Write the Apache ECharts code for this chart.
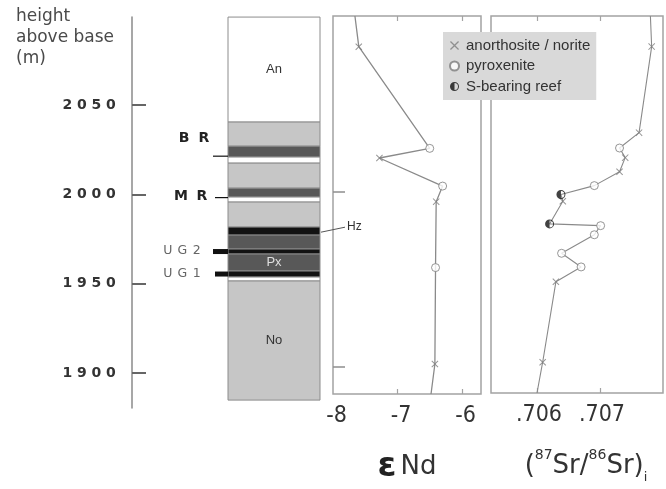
<!DOCTYPE html>
<html>
<head>
<meta charset="utf-8">
<script src="https://cdn.jsdelivr.net/npm/echarts@6/dist/echarts.min.js"></script>
<style>
  html, body { margin: 0; padding: 0; background: #fff; }
  #chart { width: 666px; height: 489px; }
</style>
</head>
<body>
<div id="chart"></div>
<script>
// Height range shared by the column and both isotope panels (m above base)
const heightMin = 1884.4;
const heightMax = 2100;
const heightTicks = [1900, 1950, 2000, 2050];

// Stratigraphic column, top to bottom
const layerBase  = [2040.6, 2027.1, 2021.0, 2017.6, 2003.6, 1998.6, 1995.8, 1981.8, 1977.3, 1969.5, 1966.7, 1957.2, 1953.8, 1951.6, 1884.9];
const layerTop   = [2099.4, 2040.6, 2027.1, 2021.0, 2017.6, 2003.6, 1998.6, 1995.8, 1981.8, 1977.3, 1969.5, 1966.7, 1957.2, 1953.8, 1951.6];
const layerRock  = ['white', 'light', 'dark', 'white', 'light', 'dark', 'white', 'light', 'black', 'dark', 'black', 'dark', 'black', 'white', 'light'];
const layerLabel = ['An', '', '', '', '', '', '', '', '', '', '', 'Px', '', '', 'No'];

// Named reefs and the Hz horizon
const reefName   = ['BR', 'MR', 'UG2', 'UG1'];
const reefHeight = [2021.5, 1998.3, 1968.1, 1955.5];
const hzName = 'Hz';
const hzHeight = 1979.5;

// εNd profile ('' = where the line leaves the frame)
const ndHeight = [2100, 2082.5, 2024.5, 2019, 2003, 1994.1, 1956.5, 1901.5, 1884.4];
const ndValue  = [-7.66, -7.60, -6.50, -7.28, -6.30, -6.40, -6.41, -6.42, -6.48];
const ndRock   = ['', 'A', 'P', 'A', 'P', 'A', 'P', 'A', ''];

// Initial 87Sr/86Sr profile
const srHeight = [2100, 2082.5, 2033.3, 2024.5, 2019, 2010.9, 2003, 1997.9, 1994.1, 1981.1, 1980.1, 1974.9, 1964.3, 1956.5, 1948, 1902, 1884.4];
const srValue  = [0.70780, 0.70782, 0.70762, 0.70731, 0.70740, 0.70731, 0.70691, 0.70638, 0.70641, 0.70620, 0.70701, 0.70691, 0.70639, 0.70670, 0.70630, 0.70609, 0.70600];
const srRock   = ['', 'A', 'A', 'P', 'A', 'A', 'P', 'S', 'A', 'S', 'P', 'P', 'P', 'P', 'A', 'A', ''];

// Axis ticks
const ndTicks = [-8, -7, -6];
const srTicks = [0.706, 0.707];
const rockNames = { A: 'anorthosite / norite', P: 'pyroxenite', S: 'S-bearing reef' };

// ---------------------------------------------------------------------
const GRID_TOP = 16, GRID_H = 385;
const frameColor = '#a3a3a3';
const lineColor = '#8a8a8a';

const shadeColor = { white: '#ffffff', light: '#c6c6c6', dark: '#585858', black: '#121212' };

const crossPath = 'path://M0,1L1,0L5,4L9,0L10,1L6,5L10,9L9,10L5,6L1,10L0,9L4,5Z';
const halfPath = 'path://M10,0A10,10 0 1,1 10,20A10,10 0 1,1 10,0Z' +
                 'M10,2.2A7.8,7.8 0 1,0 10,17.8A7.8,7.8 0 1,0 10,2.2Z' +
                 'M10,2.2A7.8,7.8 0 0,0 10,17.8Z';

const rockSymbol = {
  A: { symbol: crossPath, symbolSize: 7, itemStyle: { color: '#7c7c7c' } },
  P: { symbol: 'circle', symbolSize: 8, itemStyle: { color: '#ffffff', borderColor: '#7c7c7c', borderWidth: 1 } },
  S: { symbol: halfPath, symbolSize: 9, itemStyle: { color: '#111111' } }
};

// Rich text with each character in a fixed-width cell (wide lettering)
function spaced(text) {
  return text.split('').map(c => '{c|' + c + '}').join('');
}

const chart = echarts.init(document.getElementById('chart'), null, { renderer: 'canvas' });

function renderLayer(params, api) {
  const i = params.dataIndex;
  const p1 = api.coord([0, api.value(1)]);
  const p2 = api.coord([1, api.value(0)]);
  const children = [{
    type: 'rect',
    shape: { x: p1[0], y: p1[1], width: p2[0] - p1[0], height: p2[1] - p1[1] },
    style: { fill: shadeColor[layerRock[i]], stroke: '#8c8c8c', lineWidth: 1 }
  }];
  if (layerLabel[i]) {
    children.push({
      type: 'text',
      style: {
        text: layerLabel[i],
        x: (p1[0] + p2[0]) / 2, y: (p1[1] + p2[1]) / 2,
        align: 'center', verticalAlign: 'middle',
        fill: layerRock[i] === 'dark' ? '#dedede' : '#333333',
        font: '13px "Liberation Sans", sans-serif'
      }
    });
  }
  return { type: 'group', children };
}

// per-reef drawing style: tick length/width, label offset, lettering
const reefLook = {
  BR:  { len: 15, w: 1.2, dx: -14,   dy: -18, cell: 20,   bold: true,  size: 14, fill: '#222' },
  MR:  { len: 13, w: 1.2, dx: -15.5, dy: -1,  cell: 21,   bold: true,  size: 14, fill: '#222' },
  UG2: { len: 15, w: 5,   dx: -24,   dy: -1,  cell: 14.5, bold: false, size: 12.5, fill: '#666' },
  UG1: { len: 13, w: 5,   dx: -24,   dy: 0,   cell: 14.5, bold: false, size: 12.5, fill: '#666' }
};

function renderReef(params, api) {
  const name = reefName[params.dataIndex];
  const look = reefLook[name];
  const p = api.coord([0, api.value(1)]);
  return {
    type: 'group',
    children: [
      {
        type: 'line',
        shape: { x1: p[0] - look.len, y1: p[1], x2: p[0], y2: p[1] },
        style: { stroke: '#111', lineWidth: look.w }
      },
      {
        type: 'text',
        style: {
          text: spaced(name),
          x: p[0] + look.dx, y: p[1] + look.dy,
          align: 'right', verticalAlign: 'middle',
          rich: {
            c: {
              width: look.cell, align: 'center',
              fontSize: look.size, fontWeight: look.bold ? 'bold' : 'normal',
              fontFamily: 'DejaVu Sans', fill: look.fill
            }
          }
        }
      }
    ]
  };
}

function renderHz(params, api) {
  const p = api.coord([1, api.value(1)]);
  return {
    type: 'group',
    children: [
      { type: 'line', shape: { x1: p[0] + 1, y1: p[1] + 1, x2: p[0] + 25, y2: p[1] - 4 },
        style: { stroke: '#555', lineWidth: 1 } },
      { type: 'text', style: { text: hzName, x: p[0] + 27, y: p[1] - 4, align: 'left', verticalAlign: 'middle',
        fill: '#333', font: '12px "Liberation Sans", sans-serif' } }
    ]
  };
}

function scatterSeries(heights, values, rocks, code, axisIndex) {
  const data = [];
  heights.forEach((h, i) => { if (rocks[i] === code) data.push([values[i], h]); });
  return Object.assign({
    type: 'scatter',
    name: rockNames[code],
    xAxisIndex: axisIndex.x, yAxisIndex: axisIndex.y,
    data, z: 4, silent: true
  }, rockSymbol[code]);
}

const ndAxes = { x: 1, y: 1 };
const srAxes = { x: 3, y: 2 };

const heightAxisBase = {
  type: 'value', min: heightMin, max: heightMax,
  splitLine: { show: false }
};

const tickFont = '"Liberation Sans Narrow", "DejaVu Sans Condensed", "Liberation Sans", sans-serif';

const option = {
  animation: false,
  backgroundColor: '#ffffff',
  grid: [
    { left: 228, top: GRID_TOP, width: 92, height: GRID_H },                       // column
    { left: 333, top: GRID_TOP, width: 148, height: GRID_H, show: true,           // εNd
      borderColor: frameColor, borderWidth: 1.5, backgroundColor: 'transparent' },
    { left: 491, top: GRID_TOP, width: 172, height: GRID_H, show: true,           // Sr
      borderColor: frameColor, borderWidth: 1.5, backgroundColor: 'transparent' },
    { left: 132, top: 17, width: 1, height: 391 }                                 // height scale
  ],
  xAxis: [
    { gridIndex: 0, type: 'value', min: 0, max: 1, show: false },
    {
      gridIndex: 1, type: 'value', min: -8, max: -5.705, position: 'bottom',
      axisLine: { show: false }, splitLine: { show: false },
      axisTick: { inside: true, length: 5, customValues: [-7, -6], lineStyle: { color: frameColor, width: 1.2 } },
      axisLabel: {
        customValues: ndTicks, margin: 11, color: '#333',
        fontSize: 23, fontFamily: tickFont, padding: [0, 0, 0, 7],
        formatter: v => String(v)
      },
      name: '{e|ε}{n|Nd}', nameLocation: 'middle', nameGap: 55,
      nameTextStyle: {
        rich: {
          e: { fontSize: 34, fontWeight: 'bold', fontFamily: 'DejaVu Sans', color: '#222', lineHeight: 36 },
          n: { fontSize: 26, fontFamily: 'DejaVu Sans', color: '#333', lineHeight: 36, padding: [0, 0, 0, 4] }
        }
      }
    },
    {
      gridIndex: 1, type: 'value', min: -8, max: -5.705, position: 'top',
      axisLine: { show: false }, splitLine: { show: false }, axisLabel: { show: false },
      axisTick: { inside: true, length: 5, customValues: [-7, -6], lineStyle: { color: frameColor, width: 1.2 } }
    },
    {
      gridIndex: 2, type: 'value', min: 0.70527, max: 0.708, position: 'bottom',
      axisLine: { show: false }, splitLine: { show: false },
      axisTick: { inside: true, length: 5, customValues: srTicks, lineStyle: { color: frameColor, width: 1.2 } },
      axisLabel: {
        customValues: srTicks, margin: 11, color: '#333',
        fontSize: 23, fontFamily: tickFont, padding: [0, 0, 0, 4],
        formatter: v => v.toFixed(3).replace(/^0/, '')
      },
      name: '{b|(}{s|87}{b|Sr/}{s|86}{b|Sr)}{i|i}', nameLocation: 'middle', nameGap: 55,
      nameTextStyle: {
        padding: [0, 0, 0, 18],
        rich: {
          b: { fontSize: 26, fontFamily: 'DejaVu Sans', color: '#333', lineHeight: 36 },
          s: { fontSize: 14, fontFamily: 'DejaVu Sans', color: '#333', lineHeight: 16, verticalAlign: 'top' },
          i: { fontSize: 13, fontFamily: 'DejaVu Sans', color: '#333', lineHeight: 20, verticalAlign: 'bottom' }
        }
      }
    },
    {
      gridIndex: 2, type: 'value', min: 0.70527, max: 0.708, position: 'top',
      axisLine: { show: false }, splitLine: { show: false }, axisLabel: { show: false },
      axisTick: { inside: true, length: 5, customValues: srTicks, lineStyle: { color: frameColor, width: 1.2 } }
    },
    { gridIndex: 3, type: 'value', min: 0, max: 1, show: false }
  ],
  yAxis: [
    Object.assign({ gridIndex: 0, show: false }, heightAxisBase),
    Object.assign({
      gridIndex: 1, position: 'left',
      axisLine: { show: false }, axisLabel: { show: false },
      axisTick: { inside: true, length: 12, customValues: [1900, 2000], lineStyle: { color: '#8f8f8f', width: 1.5 } }
    }, heightAxisBase),
    Object.assign({ gridIndex: 2, show: false }, heightAxisBase),
    {
      gridIndex: 3, type: 'value', position: 'left',
      min: 1880.44, max: 2099.4,
      splitLine: { show: false },
      axisLine: { show: true, lineStyle: { color: '#8a8a8a', width: 1.5 } },
      axisTick: { show: true, inside: true, length: 14, customValues: heightTicks, lineStyle: { color: '#666', width: 2 } },
      axisLabel: {
        customValues: heightTicks, margin: 14,
        formatter: v => spaced(String(v)),
        rich: { c: { width: 14.5, align: 'center', fontSize: 14, fontWeight: 'bold', fontFamily: 'DejaVu Sans', color: '#333' } }
      }
    }
  ],
  legend: {
    data: [rockNames.A, rockNames.P, rockNames.S],
    orient: 'vertical', left: 443, top: 32,
    backgroundColor: '#d9d9d9', borderWidth: 0,
    padding: [6, 6, 6, 6], itemGap: 5.5,
    itemWidth: 9, itemHeight: 9,
    textStyle: { fontSize: 15, fontFamily: '"Liberation Sans", sans-serif', color: '#333', lineHeight: 15, padding: [0, 0, 0, 2] },
    selectedMode: false
  },
  graphic: [{
    type: 'text', left: 16, top: 6,
    style: { text: 'height\nabove base\n(m)', font: '17px "DejaVu Sans", sans-serif', lineHeight: 21, fill: '#4a4a4a' }
  }],
  series: [
    {
      type: 'custom', name: 'column', xAxisIndex: 0, yAxisIndex: 0,
      data: layerBase.map((b, i) => [b, layerTop[i]]),
      renderItem: renderLayer, silent: true, z: 2
    },
    {
      type: 'custom', name: 'reefs', xAxisIndex: 0, yAxisIndex: 0,
      data: reefHeight.map(h => [0, h]),
      renderItem: renderReef, silent: true, z: 3, clip: false
    },
    {
      type: 'custom', name: 'hz', xAxisIndex: 0, yAxisIndex: 0,
      data: [[1, hzHeight]],
      renderItem: renderHz, silent: true, z: 3, clip: false
    },
    {
      type: 'line', xAxisIndex: 1, yAxisIndex: 1, silent: true, z: 3,
      data: ndHeight.map((h, i) => [ndValue[i], h]),
      symbol: 'none', clip: true,
      lineStyle: { color: lineColor, width: 1.3 }
    },
    scatterSeries(ndHeight, ndValue, ndRock, 'A', ndAxes),
    scatterSeries(ndHeight, ndValue, ndRock, 'P', ndAxes),
    {
      type: 'line', xAxisIndex: 3, yAxisIndex: 2, silent: true, z: 3,
      data: srHeight.map((h, i) => [srValue[i], h]),
      symbol: 'none', clip: true,
      lineStyle: { color: lineColor, width: 1.1 }
    },
    scatterSeries(srHeight, srValue, srRock, 'A', srAxes),
    scatterSeries(srHeight, srValue, srRock, 'P', srAxes),
    scatterSeries(srHeight, srValue, srRock, 'S', srAxes)
  ]
};

chart.setOption(option);
</script>
</body>
</html>
